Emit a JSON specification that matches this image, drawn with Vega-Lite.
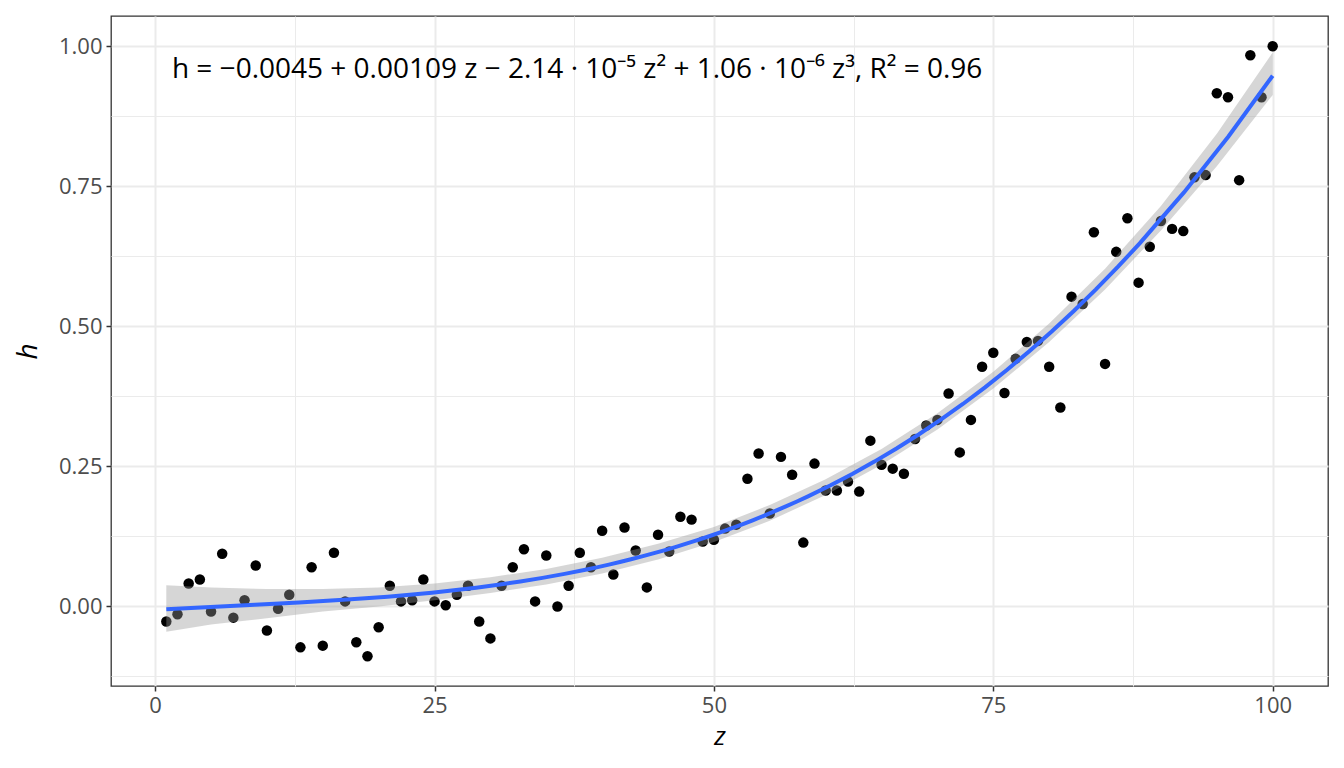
{
  "$schema": "https://vega.github.io/schema/vega-lite/v6.json",
  "background": "white",
  "autosize": "none",
  "width": 1217,
  "height": 670,
  "padding": {"left": 111, "top": 16, "right": 16, "bottom": 82},
  "datasets": {
    "points": [
      {"z": 1, "h": -0.027}, {"z": 2, "h": -0.014}, {"z": 3, "h": 0.041}, {"z": 4, "h": 0.048},
      {"z": 5, "h": -0.009}, {"z": 6, "h": 0.094}, {"z": 7, "h": -0.020}, {"z": 8, "h": 0.011},
      {"z": 9, "h": 0.073}, {"z": 10, "h": -0.043}, {"z": 11, "h": -0.004}, {"z": 12, "h": 0.021},
      {"z": 13, "h": -0.073}, {"z": 14, "h": 0.070}, {"z": 15, "h": -0.070}, {"z": 16, "h": 0.096},
      {"z": 17, "h": 0.009}, {"z": 18, "h": -0.064}, {"z": 19, "h": -0.089}, {"z": 20, "h": -0.037},
      {"z": 21, "h": 0.037}, {"z": 22, "h": 0.009}, {"z": 23, "h": 0.011}, {"z": 24, "h": 0.048},
      {"z": 25, "h": 0.009}, {"z": 26, "h": 0.002}, {"z": 27, "h": 0.021}, {"z": 28, "h": 0.037},
      {"z": 29, "h": -0.027}, {"z": 30, "h": -0.057}, {"z": 31, "h": 0.037}, {"z": 32, "h": 0.070},
      {"z": 33, "h": 0.102}, {"z": 34, "h": 0.009}, {"z": 35, "h": 0.091}, {"z": 36, "h": 0.000},
      {"z": 37, "h": 0.037}, {"z": 38, "h": 0.096}, {"z": 39, "h": 0.070}, {"z": 40, "h": 0.135},
      {"z": 41, "h": 0.057}, {"z": 42, "h": 0.141}, {"z": 43, "h": 0.100}, {"z": 44, "h": 0.034},
      {"z": 45, "h": 0.128}, {"z": 46, "h": 0.098}, {"z": 47, "h": 0.160}, {"z": 48, "h": 0.155},
      {"z": 49, "h": 0.116}, {"z": 50, "h": 0.119}, {"z": 51, "h": 0.139}, {"z": 52, "h": 0.146},
      {"z": 53, "h": 0.228}, {"z": 54, "h": 0.273}, {"z": 55, "h": 0.166}, {"z": 56, "h": 0.267},
      {"z": 57, "h": 0.235}, {"z": 58, "h": 0.114}, {"z": 59, "h": 0.255}, {"z": 60, "h": 0.207},
      {"z": 61, "h": 0.207}, {"z": 62, "h": 0.223}, {"z": 63, "h": 0.205}, {"z": 64, "h": 0.296},
      {"z": 65, "h": 0.253}, {"z": 66, "h": 0.246}, {"z": 67, "h": 0.237}, {"z": 68, "h": 0.299},
      {"z": 69, "h": 0.323}, {"z": 70, "h": 0.333}, {"z": 71, "h": 0.380}, {"z": 72, "h": 0.275},
      {"z": 73, "h": 0.333}, {"z": 74, "h": 0.428}, {"z": 75, "h": 0.453}, {"z": 76, "h": 0.381},
      {"z": 77, "h": 0.442}, {"z": 78, "h": 0.472}, {"z": 79, "h": 0.474}, {"z": 80, "h": 0.428},
      {"z": 81, "h": 0.355}, {"z": 82, "h": 0.553}, {"z": 83, "h": 0.540}, {"z": 84, "h": 0.668},
      {"z": 85, "h": 0.433}, {"z": 86, "h": 0.633}, {"z": 87, "h": 0.693}, {"z": 88, "h": 0.578},
      {"z": 89, "h": 0.642}, {"z": 90, "h": 0.688}, {"z": 91, "h": 0.674}, {"z": 92, "h": 0.670},
      {"z": 93, "h": 0.766}, {"z": 94, "h": 0.770}, {"z": 95, "h": 0.916}, {"z": 96, "h": 0.909},
      {"z": 97, "h": 0.761}, {"z": 98, "h": 0.984}, {"z": 99, "h": 0.909}, {"z": 100, "h": 1.000}
    ],
    "band": [
      {"z": 1, "lo": -0.045, "hi": 0.038}, {"z": 5, "lo": -0.032, "hi": 0.034},
      {"z": 10, "lo": -0.021, "hi": 0.031}, {"z": 15, "lo": -0.009, "hi": 0.031},
      {"z": 20, "lo": 0.000, "hi": 0.034}, {"z": 25, "lo": 0.011, "hi": 0.041},
      {"z": 30, "lo": 0.024, "hi": 0.052}, {"z": 35, "lo": 0.039, "hi": 0.067},
      {"z": 40, "lo": 0.059, "hi": 0.087}, {"z": 45, "lo": 0.084, "hi": 0.112},
      {"z": 50, "lo": 0.115, "hi": 0.142}, {"z": 55, "lo": 0.153, "hi": 0.181},
      {"z": 60, "lo": 0.199, "hi": 0.227}, {"z": 65, "lo": 0.253, "hi": 0.281},
      {"z": 70, "lo": 0.316, "hi": 0.345}, {"z": 75, "lo": 0.389, "hi": 0.419},
      {"z": 80, "lo": 0.472, "hi": 0.505}, {"z": 85, "lo": 0.566, "hi": 0.603},
      {"z": 90, "lo": 0.671, "hi": 0.715}, {"z": 95, "lo": 0.786, "hi": 0.844},
      {"z": 100, "lo": 0.913, "hi": 0.989}
    ]
  },
  "layer": [
    {
      "data": {"name": "points"},
      "mark": {"type": "point", "filled": true, "color": "black", "opacity": 1, "size": 110},
      "encoding": {
        "x": {
          "field": "z", "type": "quantitative",
          "scale": {"domain": [-3.95, 104.95], "nice": false, "zero": false},
          "axis": {
            "values": [0, 12.5, 25, 37.5, 50, 62.5, 75, 87.5, 100],
            "labelExpr": "datum.value % 25 == 0 ? datum.label : ''",
            "title": "z",
            "titlePadding": 7,
            "titleFontSize": 26,
            "gridWidth": {"condition": {"test": "datum.value % 25 != 0", "value": 1}, "value": 2},
            "tickOpacity": {"condition": {"test": "datum.value % 25 != 0", "value": 0}, "value": 1}
          }
        },
        "y": {
          "field": "h", "type": "quantitative",
          "scale": {"domain": [-0.142, 1.054], "nice": false, "zero": false},
          "axis": {
            "values": [-0.125, 0, 0.125, 0.25, 0.375, 0.5, 0.625, 0.75, 0.875, 1],
            "format": ".2f",
            "labelExpr": "abs(datum.value * 4 - round(datum.value * 4)) < 0.01 ? datum.label : ''",
            "title": "h",
            "titlePadding": 16,
            "gridWidth": {"condition": {"test": "abs(datum.value * 4 - round(datum.value * 4)) > 0.01", "value": 1}, "value": 2},
            "tickOpacity": {"condition": {"test": "abs(datum.value * 4 - round(datum.value * 4)) > 0.01", "value": 0}, "value": 1}
          }
        }
      }
    },
    {
      "data": {"name": "band"},
      "mark": {"type": "area", "color": "#999999", "opacity": 0.4},
      "encoding": {
        "x": {"field": "z", "type": "quantitative"},
        "y": {"field": "lo", "type": "quantitative"},
        "y2": {"field": "hi"}
      }
    },
    {
      "data": {"name": "points"},
      "transform": [
        {"regression": "h", "on": "z", "method": "poly", "order": 3, "extent": [1, 100]}
      ],
      "mark": {"type": "line", "color": "#3366FF", "strokeWidth": 4},
      "encoding": {
        "x": {"field": "z", "type": "quantitative"},
        "y": {"field": "h", "type": "quantitative"}
      }
    },
    {
      "data": {"values": [{}]},
      "mark": {
        "type": "text", "align": "left", "baseline": "middle",
        "font": "Open Sans", "fontSize": 28, "color": "black"
      },
      "encoding": {
        "x": {"datum": 1.5, "type": "quantitative"},
        "y": {"datum": 0.958, "type": "quantitative"},
        "text": {"value": "h = −0.0045 + 0.00109 z − 2.14 · 10⁻⁵ z² + 1.06 · 10⁻⁶ z³, R² = 0.96"}
      }
    }
  ],
  "config": {
    "font": "Open Sans",
    "view": {"stroke": "#333333", "strokeWidth": 1.3},
    "axis": {
      "domain": false,
      "gridColor": "#EBEBEB",
      "tickColor": "#333333",
      "tickSize": 5,
      "tickWidth": 1.5,
      "labelColor": "#4D4D4D",
      "labelFontSize": 22,
      "labelFont": "Open Sans",
      "labelPadding": 4,
      "titleFont": "Open Sans",
      "titleFontSize": 28,
      "titleFontWeight": "normal",
      "titleFontStyle": "italic",
      "titleColor": "black"
    }
  }
}
